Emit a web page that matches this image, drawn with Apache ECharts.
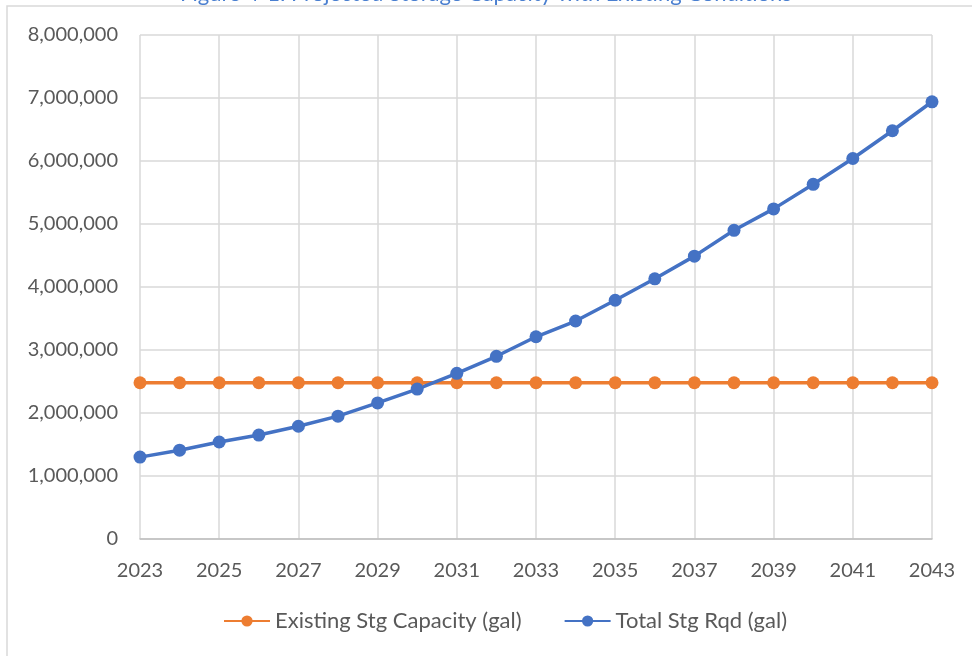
<!DOCTYPE html>
<html>
<head>
<meta charset="utf-8">
<script src="https://cdn.jsdelivr.net/npm/echarts@6/dist/echarts.min.js"></script>
<style>
  html, body { margin: 0; padding: 0; background: #fff; }
  #chart { width: 972px; height: 656px; }
</style>
</head>
<body>
<div id="chart"></div>
<script>
var years = ['2023','2024','2025','2026','2027','2028','2029','2030','2031','2032','2033',
             '2034','2035','2036','2037','2038','2039','2040','2041','2042','2043'];
var existingCapacity = [2480000,2480000,2480000,2480000,2480000,2480000,2480000,2480000,2480000,2480000,2480000,
                        2480000,2480000,2480000,2480000,2480000,2480000,2480000,2480000,2480000,2480000];
var totalRequired = [1300000,1410000,1540000,1650000,1790000,1950000,2160000,2380000,2630000,2900000,3210000,
                     3460000,3790000,4130000,4490000,4900000,5240000,5630000,6040000,6480000,6940000];
var seriesNames = ['Existing Stg Capacity (gal)', 'Total Stg Rqd (gal)'];

var chart = echarts.init(document.getElementById('chart'));

var option = {
    animation: false,
    textStyle: { fontFamily: 'Lato' },
    title: {
        text: 'Figure 4-1: Projected Storage Capacity with Existing Conditions',
        left: 'center',
        top: -22,
        textStyle: { color: '#4a7fd0', fontSize: 22, fontWeight: 'normal', fontFamily: 'Lato' }
    },
    graphic: [{
        type: 'rect',
        shape: { x: 7, y: 6, width: 980, height: 660 },
        style: { fill: 'none', stroke: '#d9d9d9', lineWidth: 1.5 },
        silent: true
    }],
    grid: { left: 140, right: 40, top: 35, bottom: 117 },
    legend: {
        bottom: 19,
        left: 218,
        itemWidth: 46,
        itemHeight: 14,
        itemGap: 42,
        textStyle: { color: '#595959', fontSize: 22 },
        data: seriesNames
    },
    xAxis: {
        type: 'category',
        data: years,
        boundaryGap: false,
        axisLine: { lineStyle: { color: '#bfbfbf', width: 1.5 } },
        axisTick: { show: false },
        axisLabel: { interval: 1, color: '#595959', fontSize: 20, margin: 22 },
        splitLine: { show: true, interval: 1, lineStyle: { color: '#d9d9d9', width: 1.5 } }
    },
    yAxis: {
        type: 'value',
        min: 0,
        max: 8000000,
        interval: 1000000,
        axisLine: { show: false },
        axisTick: { show: false },
        axisLabel: {
            color: '#595959',
            fontSize: 20,
            margin: 22,
            formatter: function (v) { return v.toLocaleString('en-US'); }
        },
        splitLine: { lineStyle: { color: '#d9d9d9', width: 1.5 } }
    },
    series: [
        {
            name: seriesNames[0],
            type: 'line',
            data: existingCapacity,
            symbol: 'circle',
            symbolSize: 13,
            color: '#ed7d31',
            lineStyle: { width: 3.5 }
        },
        {
            name: seriesNames[1],
            type: 'line',
            data: totalRequired,
            symbol: 'circle',
            symbolSize: 13,
            color: '#4472c4',
            lineStyle: { width: 3.5 }
        }
    ]
};

chart.setOption(option);
</script>
</body>
</html>
